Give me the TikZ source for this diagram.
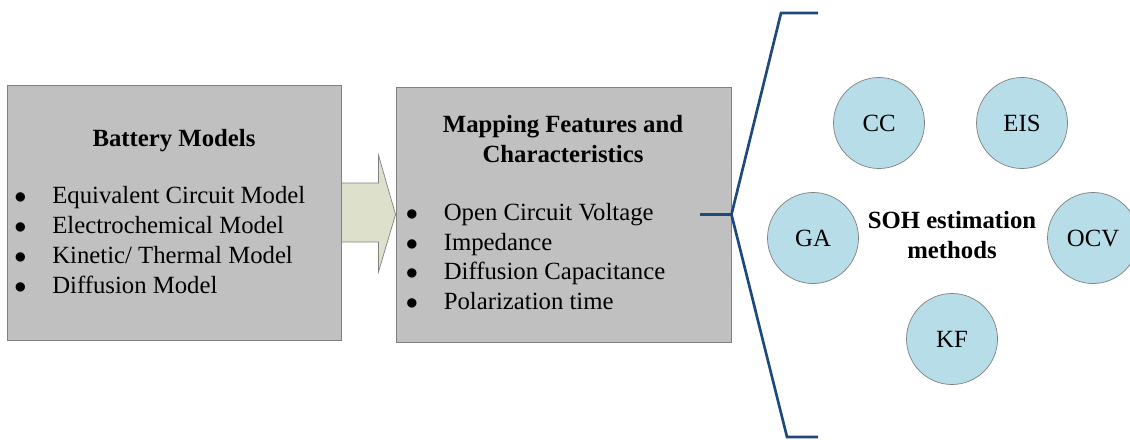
\documentclass[tikz,border=0pt]{standalone}
\usepackage{fontspec}
\setmainfont{Liberation Serif}
\newfontfamily\timesfont{Liberation Serif}
\usetikzlibrary{calc}
\definecolor{boxgray}{RGB}{192,192,192}
\definecolor{edgegray}{RGB}{128,128,128}
\definecolor{arrowfill}{RGB}{221,224,203}
\definecolor{methodblue}{RGB}{183,221,232}
\definecolor{bracenavy}{RGB}{31,73,125}
\newcommand{\bulletitem}[1]{\makebox[0.95cm][l]{$\bullet$}#1}

\begin{document}
\begin{tikzpicture}[x=0.025cm,y=-0.025cm,font=\timesfont\fontsize{17.6}{21.3}\selectfont,
  panel/.style={draw=edgegray,fill=boxgray,line width=0.6pt,minimum height=6.375cm,inner sep=0pt},
  method/.style={circle,draw=edgegray,fill=methodblue,line width=0.5pt,minimum size=2.275cm,inner sep=0pt},
  heading/.style={font=\timesfont\fontsize{17.6}{21.3}\selectfont\bfseries},
  brace/.style={draw=bracenavy,line width=1.9pt}]
\useasboundingbox (0,0) rectangle (1130,440);
% the two boxes
\node[panel,minimum width=8.35cm] (bm) at (174,212.5) {};
\node[panel,minimum width=8.375cm] (mf) at (563.5,214.5) {};
\node[heading,anchor=base] (bm-title) at (174,146) {Battery Models};
\node[heading,align=center,inner sep=0pt] (mf-title) at (563,139) {Mapping Features and\\Characteristics};
\foreach \txt [count=\i] in {Equivalent Circuit Model,Electrochemical Model,Kinetic/ Thermal Model,Diffusion Model}
  \node[anchor=base west,inner sep=0pt] (bm-\i) at (14,173+30*\i) {\bulletitem{\txt}};
\foreach \txt [count=\i] in {Open Circuit Voltage,Impedance,Diffusion Capacitance,Polarization time}
  \node[anchor=base west,inner sep=0pt] (mf-\i) at (405.5,191+29.5*\i) {\bulletitem{\txt}};
% block arrow between the boxes
\draw[draw=edgegray,fill=arrowfill,line width=0.5pt]
  ($(bm.east)+(0,-29.5)$) -- ($(bm.east)+(37,-29.5)$) -- ($(bm.east)+(37,-57.5)$) -- (mf.west)
  -- ($(bm.east)+(37,59.5)$) -- ($(bm.east)+(37,29.5)$) -- ($(bm.east)+(0,29.5)$) -- cycle;
% bracket
\coordinate (bj) at (mf.east);
\coordinate (bs) at (700,214.5);
\draw[brace] (bs) -- (bj);
\draw[brace,line join=miter] (818,13) -- (781,13) -- (bj) -- (787,437) -- (818,437);
% methods
\node[heading,align=center,inner sep=0pt] (soh) at (952,235) {SOH estimation\\methods};
\node[method] (cc) at (879,123) {CC};
\node[method] (eis) at (1022,123) {EIS};
\node[method] (ga) at (813,238) {GA};
\node[method] (ocv) at (1093,238) {OCV};
\node[method] (kf) at (952,339) {KF};
\end{tikzpicture}
\end{document}
